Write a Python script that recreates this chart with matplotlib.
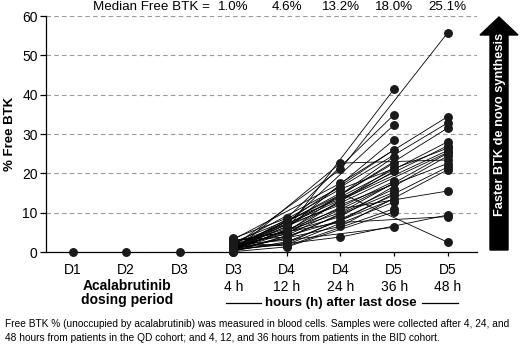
import matplotlib
matplotlib.use('Agg')
import matplotlib.pyplot as plt
from matplotlib.patches import Polygon
from matplotlib.lines import Line2D
import numpy as np

plt.rcParams['font.family'] = ['Liberation Sans', 'DejaVu Sans']

# chart data
day_labels = ['D1', 'D2', 'D3', 'D3', 'D4', 'D4', 'D5', 'D5']
hour_labels = ['4 h', '12 h', '24 h', '36 h', '48 h']
median_labels = ['1.0%', '4.6%', '13.2%', '18.0%', '25.1%']
dosing_free = [0, 0, 0]

# QD cohort: 4 h, 24 h, 48 h after last dose
qd_4h = [0.2, 1.5, 3.2, 2.0, 0.8, 0.5, 1.2, 0.3, 2.5, 1.0, 0.6, 1.8, 0.4, 0.9, 1.1, 0.1, 2.8, 0.7, 0.5]
qd_24h = [22.6, 21.0, 17.5, 16.5, 16.0, 15.0, 14.5, 14.0, 13.5, 13.2, 12.5, 12.0, 11.0, 10.0, 9.0, 8.0, 7.5, 6.5, 3.8]
qd_48h = [23.4, 55.7, 34.4, 32.8, 26.4, 2.5, 31.5, 28.0, 27.0, 25.8, 25.3, 22.5, 15.5, 25.1, 24.4, 21.6, 9.0, 20.9, 9.4]

# BID cohort: 4 h, 12 h, 36 h after last dose
bid_4h = [3.5, 1.3, 2.2, 0.9, 1.7, 0.4, 1.0, 2.9, 0.6, 1.4, 0.2, 3.0, 0.8, 1.9, 0.3, 1.1, 0.7, 2.4, 0.1]
bid_12h = [8.6, 7.8, 7.2, 6.5, 6.0, 5.8, 5.4, 5.0, 4.8, 4.6, 4.2, 3.8, 3.5, 3.0, 2.6, 2.2, 1.9, 1.5, 1.3]
bid_36h = [34.9, 26.0, 32.3, 22.6, 28.5, 41.4, 20.5, 24.2, 18.0, 21.5, 17.5, 15.2, 16.0, 6.3, 13.5, 14.5, 12.7, 11.0, 10.2]

W, H = 520, 346


def fx(px):
    return px / W


def fy(py):
    return 1 - py / H


dot = '#1a1a1a'
fig = plt.figure(figsize=(W / 100, H / 100), dpi=100)
ax = fig.add_axes([fx(46), fy(252), fx(477) - fx(46), fy(16) - fy(252)])

line_kw = dict(color='black', lw=0.6, zorder=2)
dot_kw = dict(color=dot, marker='o', ms=5.4, ls='none', zorder=3, clip_on=False)

ax.plot([1, 2, 3], dosing_free, **line_kw)
ax.plot([1, 2, 3], dosing_free, **dot_kw)

for a, b, c in zip(qd_4h, qd_24h, qd_48h):
    ax.plot([4, 6, 8], [a, b, c], **line_kw)
for a, b, c in zip(bid_4h, bid_12h, bid_36h):
    ax.plot([4, 5, 7], [a, b, c], **line_kw)

for x, vals in [(4, qd_4h + bid_4h), (5, bid_12h), (6, qd_24h), (7, bid_36h), (8, qd_48h)]:
    ax.plot([x] * len(vals), vals, **dot_kw)

ax.set_xlim(0.5, 8.55)
ax.set_ylim(0, 60)
ax.set_yticks(range(0, 61, 10))
ax.set_xticks(range(1, 9))
ax.set_xticklabels(day_labels)
ax.tick_params(axis='both', labelsize=10, width=0.9, color='black')
ax.tick_params(axis='y', length=4, pad=2)
ax.tick_params(axis='x', length=3, pad=5)
ax.yaxis.grid(True, linestyle=(0, (4, 3)), color='#9a9a9a', lw=0.8)
ax.set_axisbelow(True)
for s in ['top', 'right']:
    ax.spines[s].set_visible(False)
for s in ['left', 'bottom']:
    ax.spines[s].set_linewidth(0.9)
ax.set_ylabel('% Free BTK', fontsize=9.5, fontweight='bold', labelpad=4)

# hours row under the day labels
for x, lab in zip(range(4, 9), hour_labels):
    fig.text(fx(46 + (x - 0.5) * 53.55), fy(287), lab, fontsize=10, ha='center', va='center')

fig.text(fx(127), fy(293), 'Acalabrutinib\ndosing period', fontsize=10, fontweight='bold',
         ha='center', va='center', linespacing=1.0)
fig.text(fx(341), fy(303), 'hours (h) after last dose', fontsize=9.6, fontweight='bold',
         ha='center', va='center')
fig.add_artist(Line2D([fx(226), fx(261)], [fy(303), fy(303)], color='black', lw=0.9))
fig.add_artist(Line2D([fx(422), fx(458)], [fy(303), fy(303)], color='black', lw=0.9))

# medians along the top
fig.text(fx(210), fy(7), 'Median Free BTK =', fontsize=9.6, ha='right', va='center')
for x, lab in zip(range(4, 9), median_labels):
    fig.text(fx(46 + (x - 0.5) * 53.55), fy(7), lab, fontsize=9.6, ha='center', va='center')

# arrow on the right
arrow_px = [(490, 250), (508, 250), (508, 35), (518, 35), (499, 17), (480, 35), (490, 35)]
fig.add_artist(Polygon([(fx(a), fy(b)) for a, b in arrow_px], closed=True,
                       transform=fig.transFigure, color='black'))
fig.text(fx(499.5), fy(124), 'Faster BTK de novo synthesis', rotation=90, color='white',
         fontsize=9.2, fontweight='bold', ha='center', va='center')

fig.text(fx(5), fy(324), 'Free BTK % (unoccupied by acalabrutinib) was measured in blood cells. '
         'Samples were collected after 4, 24, and', fontsize=7.3, ha='left', va='center')
fig.text(fx(5), fy(338), '48 hours from patients in the QD cohort; and 4, 12, and 36 hours from '
         'patients in the BID cohort.', fontsize=7.3, ha='left', va='center')

fig.savefig('out.png', dpi=100)
